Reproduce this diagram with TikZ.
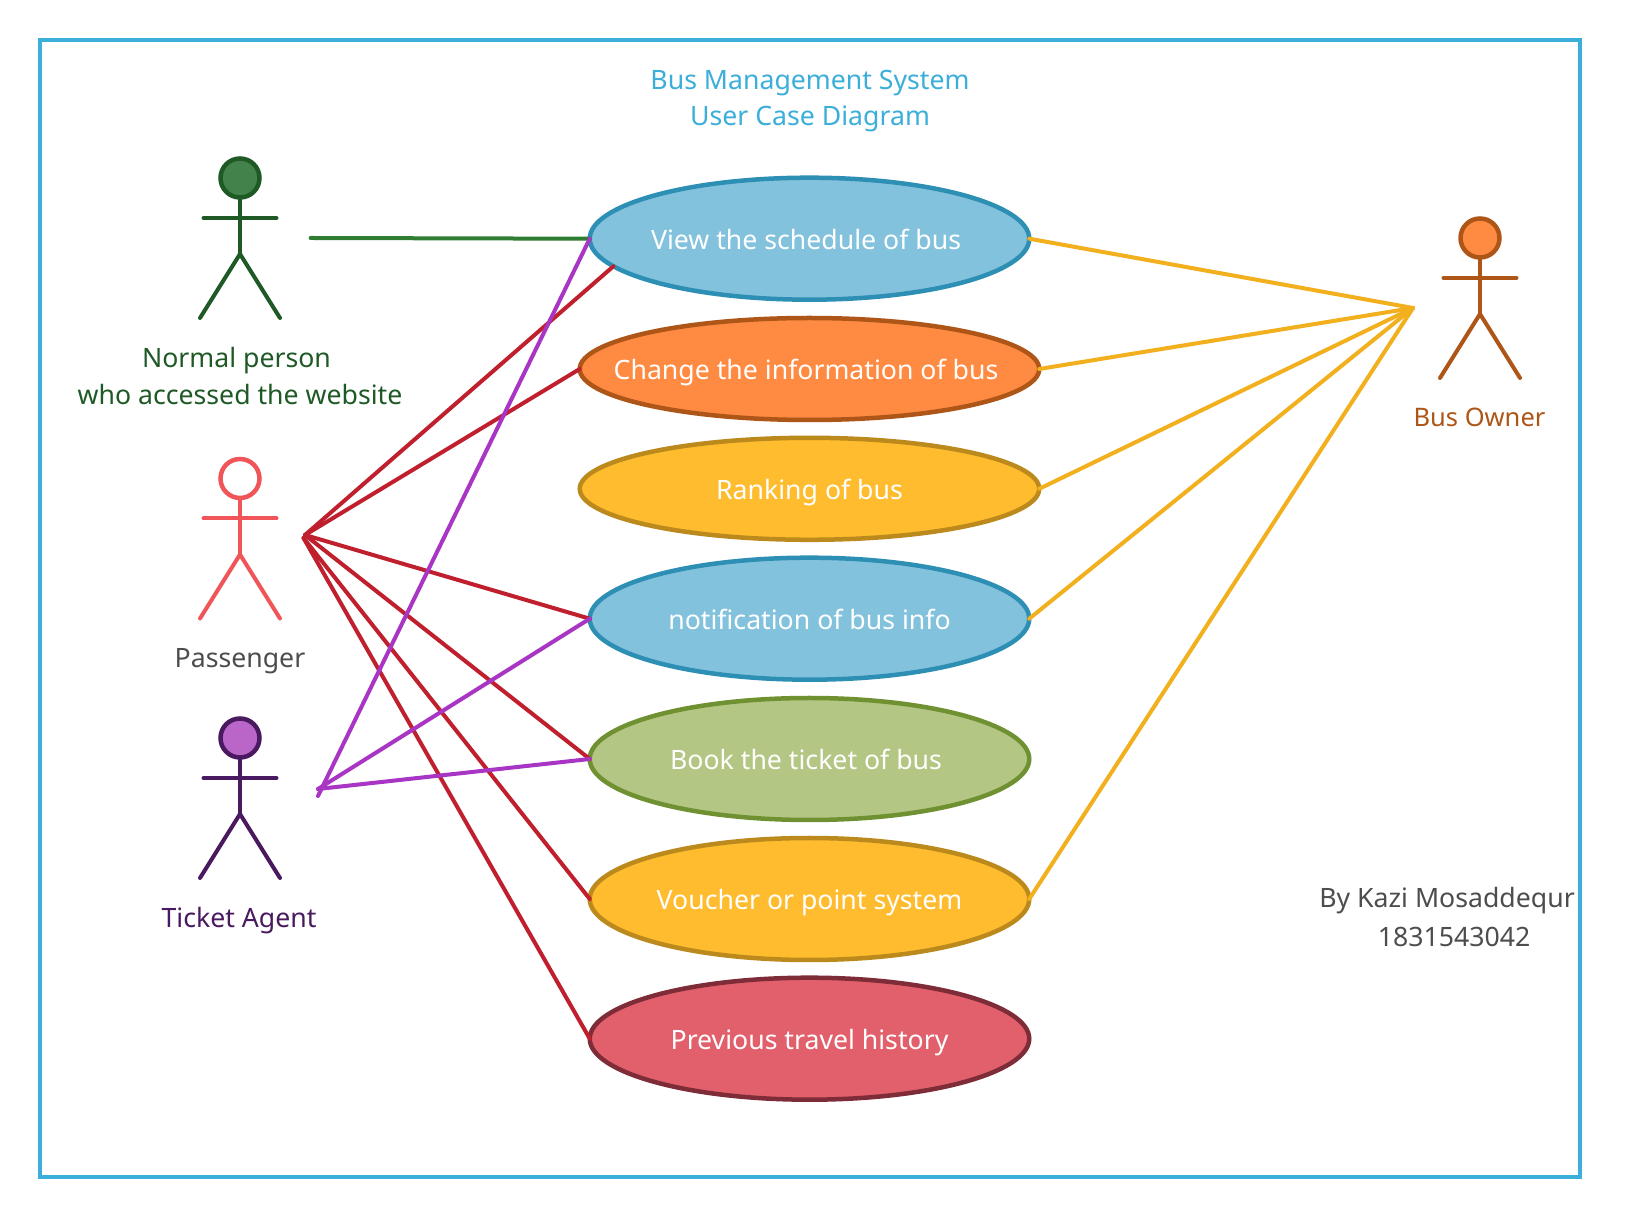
\documentclass[tikz,border=0pt]{standalone}
\usepackage{fontspec}
\setmainfont{Noto Sans}
\usepackage{tikz}
\usetikzlibrary{shapes.geometric}
\usepackage{xcolor}
\definecolor{frameblue}{HTML}{3BAEDA}
\definecolor{blueline}{HTML}{2E8FB5}
\definecolor{bluefill}{HTML}{83C2DD}
\definecolor{orangeline}{HTML}{AE5518}
\definecolor{orangefill}{HTML}{FF8A42}
\definecolor{amberline}{HTML}{BC8A1C}
\definecolor{amberfill}{HTML}{FEBC2E}
\definecolor{oliveline}{HTML}{6F9132}
\definecolor{olivefill}{HTML}{B3C683}
\definecolor{roseline}{HTML}{7E2C38}
\definecolor{rosefill}{HTML}{E1606C}
\definecolor{normalline}{HTML}{1F5A26}
\definecolor{normalfill}{HTML}{43834B}
\definecolor{passline}{HTML}{F0555A}
\definecolor{agentline}{HTML}{4A1A60}
\definecolor{agentfill}{HTML}{BA66C8}
\definecolor{greytext}{HTML}{4D4D4D}
\definecolor{greenwire}{HTML}{2E7D32}
\definecolor{redwire}{HTML}{C0202E}
\definecolor{purplewire}{HTML}{A835C4}
\definecolor{amberwire}{HTML}{F2B01E}
\newcommand{\casetext}[1]{\makebox[0pt]{#1}}

\begin{document}
\begin{tikzpicture}[x=.5pt,y=-.5pt,line cap=round]
   \tikzstyle{usecase} = [ellipse,draw,line width=2.25pt,inner sep=0pt,outer sep=0pt,
     minimum width=219.75pt,minimum height=61pt,text=white,font=\fontsize{13.33}{18.3}\selectfont,
     text height=13.5pt,text depth=3pt]
   \tikzstyle{flatcase} = [usecase,minimum width=229.75pt,minimum height=51pt]
   \tikzstyle{actorhead} = [circle,draw,line width=2.25pt,inner sep=0pt,outer sep=0pt,minimum size=19.5pt]
   \tikzstyle{caption} = [align=center,font=\fontsize{13.33}{18.3}\selectfont]
   \tikzstyle{wire} = [line width=2pt]
   \path [fill=white,use as bounding box] (0,0) rectangle (1640,1218);
   \draw [frameblue,line width=2pt] (40,40) rectangle (1580,1177);
   \node [caption,text=frameblue] (title) at (810,101) {Bus Management System\\User Case Diagram};
   %%
   \node [usecase,fill=bluefill,draw=blueline] (view) at (809.5,238.7) {\casetext{View the schedule of bus~\null}};
   \node [flatcase,fill=orangefill,draw=orangeline] (change) at (809.5,369) {\casetext{Change the information of bus~\null}};
   \node [flatcase,fill=amberfill,draw=amberline] (rank) at (809.5,488.8) {\casetext{Ranking of bus}};
   \node [usecase,fill=bluefill,draw=blueline] (notify) at (809.5,618.7) {\casetext{notification of bus info}};
   \node [usecase,fill=olivefill,draw=oliveline] (book) at (809.5,759) {\casetext{Book the ticket of bus~\null}};
   \node [usecase,fill=amberfill,draw=amberline] (voucher) at (809.5,899) {\casetext{Voucher or point system}};
   \node [usecase,fill=rosefill,draw=roseline] (history) at (809.5,1038.7) {\casetext{Previous travel history}};
   %%
   \foreach \n/\x/\y/\fc/\lc in {normal/240/178/normalfill/normalline,
       pass/240/478.5/white/passline,agent/240/738/agentfill/agentline,
       owner/1480/238/orangefill/orangeline} {
     \begin{scope}[shift={(\x,\y)}]
       \node [actorhead,fill=\fc,draw=\lc] (\n) at (0,0) {};
       \draw [\lc,line width=2pt] (\n.south) -- (0,76);
       \draw [\lc,line width=2pt] (-36.5,40) -- (36.5,40);
       \draw [\lc,line width=2pt] (-40,140) -- (0,76) -- (40,140);
     \end{scope}
   }
   %%
   \node [caption,text=normalline] (normallabel) at (240,376) {Normal person~\null\\who accessed the website};
   \node [caption,text=greytext] (passlabel) at (240,661) {Passenger};
   \node [caption,text=agentline] (agentlabel) at (239,921) {Ticket Agent};
   \node [caption,text=orangeline,font=\fontsize{12.75}{18.3}\selectfont] (ownerlabel) at (1479.5,417) {Bus Owner};
   \node [caption,text=greytext] (byline) at (1454,917) {By Kazi Mosaddequr~~\null\\[1.6pt]1831543042};
   %%
   \coordinate (normalend) at (310.6,238);
   \coordinate (passend) at (305,535);
   \coordinate (passlow) at (303.5,538);
   \coordinate (agentend) at (318,789);
   \coordinate (agentlow) at (318,796);
   \coordinate (ownerend) at (1413,308);
   %%
   \draw [wire,greenwire] (normalend) -- (view.west);
   \draw [wire,redwire] (passend) -- (view.188);
   \draw [wire,redwire] (passend) -- (change.west);
   \draw [wire,redwire] (passend) -- (notify.west);
   \draw [wire,redwire] (passend) -- (book.west);
   \draw [wire,redwire] (passlow) -- (voucher.west);
   \draw [wire,redwire] (passlow) -- (history.west);
   \draw [wire,purplewire] (agentlow) -- (view.west);
   \draw [wire,purplewire] (agentend) -- (notify.west);
   \draw [wire,purplewire] (agentend) -- (book.west);
   \foreach \uc in {view,change,rank,notify,voucher}
     \draw [wire,amberwire] (\uc.east) -- (ownerend);
\end{tikzpicture}
\end{document}
